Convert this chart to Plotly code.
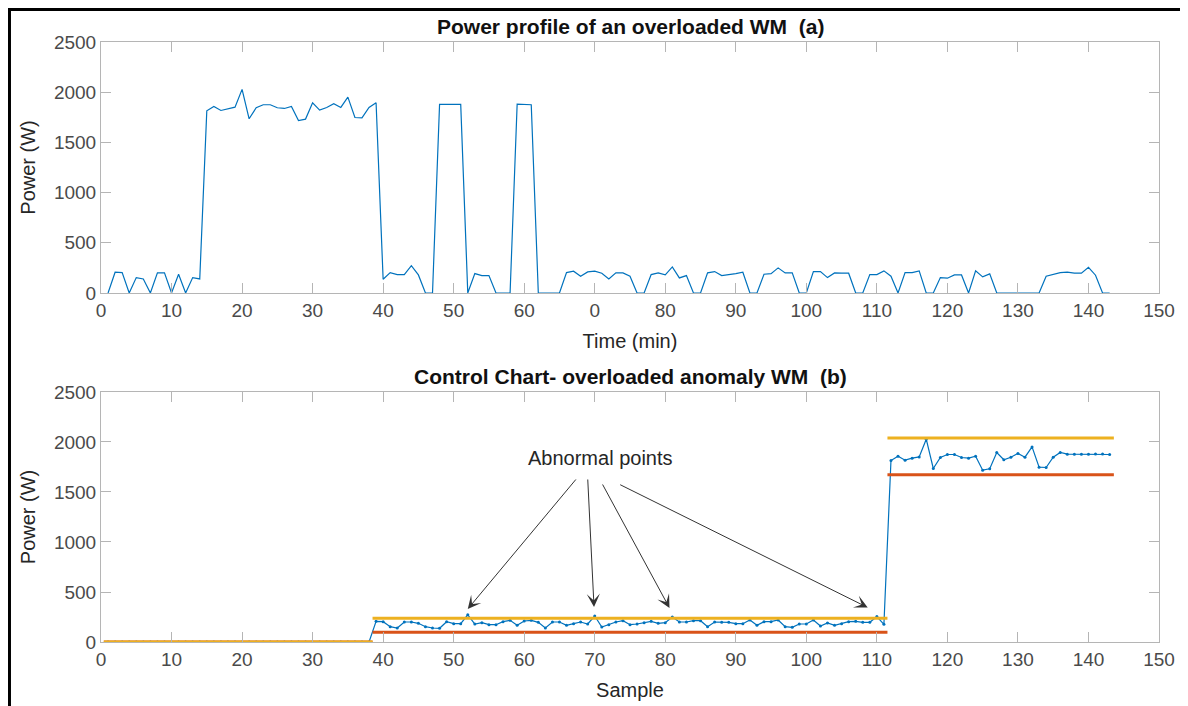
import plotly.graph_objects as go

# ---------------- data ----------------
time_min = list(range(1, 144))
power_w = [
    0, 207, 203, 0, 153, 140, 0, 200, 200, 0,
    187, 0, 153, 140, 1815, 1858, 1818, 1838, 1851, 2028,
    1735, 1845, 1875, 1875, 1845, 1838, 1858, 1718, 1732, 1895,
    1822, 1848, 1885, 1848, 1951, 1748, 1745, 1848, 1895, 137,
    203, 183, 183, 272, 180, 0, 0, 1878, 1878, 1878,
    1878, 0, 193, 173, 173, 0, 0, 0, 1881, 1881,
    1875, 0, 0, 0, 0, 203, 217, 167, 210, 217,
    197, 140, 200, 200, 167, 0, 0, 183, 200, 180,
    260, 150, 173, 0, 0, 200, 213, 173, 180, 193,
    207, 0, 0, 187, 193, 250, 200, 200, 0, 0,
    213, 213, 153, 200, 197, 197, 0, 0, 183, 183,
    220, 167, 0, 203, 203, 220, 0, 0, 153, 147,
    180, 180, 0, 220, 160, 190, 0, 0, 0, 0,
    0, 0, 0, 167, 183, 203, 207, 197, 197, 255,
    177, 0, 0,
]

# Control chart: samples grouped as off (0 W), low-power and high-power states
off_values = [v for v in power_w if v == 0]
low_values = [v for v in power_w if 0 < v < 1000]
high_values = [v for v in power_w if v >= 1000]
control_values = off_values + low_values + high_values
sample_idx = list(range(1, len(control_values) + 1))

# control limits per segment
seg_start = [0.4, 38.5, 111.5]
seg_end = [38.5, 111.5, 143.6]
ucl = [0, 237, 2040]
lcl = [0, 97, 1672]

# abnormal points annotations (arrow head / tail in data units)
arrow_head_x = [52.0, 69.9, 80.6, 108.7]
arrow_head_y = [330, 350, 340, 345]
arrow_tail_x = [67.5, 69.0, 71.0, 73.4]
arrow_tail_y = [1640, 1640, 1590, 1580]

x_tickvals = list(range(0, 151, 10))
top_ticktext = ["0", "10", "20", "30", "40", "50", "60", "0", "80", "90",
                "100", "110", "120", "130", "140", "150"]
y_tickvals = [0, 500, 1000, 1500, 2000, 2500]

BLUE = "#0072BD"
YELLOW = "#EDB120"
RED = "#D95319"
FONT = "Arial, Liberation Sans, sans-serif"
AXC = "#b5b5b5"
TXC = "#4a4a4a"
LBL = "#262626"

fig = go.Figure()

fig.add_trace(go.Scatter(x=time_min, y=power_w, mode="lines",
                         line=dict(color=BLUE, width=1.2),
                         xaxis="x", yaxis="y", showlegend=False))

fig.add_trace(go.Scatter(x=sample_idx, y=control_values, mode="lines+markers",
                         line=dict(color=BLUE, width=1.2),
                         marker=dict(color=BLUE, size=3),
                         xaxis="x2", yaxis="y2", showlegend=False))

for s, e, lo in zip(seg_start, seg_end, lcl):
    fig.add_trace(go.Scatter(x=[s, e], y=[lo, lo], mode="lines",
                             line=dict(color=RED, width=3),
                             xaxis="x2", yaxis="y2", showlegend=False))
for s, e, up in zip(seg_start, seg_end, ucl):
    fig.add_trace(go.Scatter(x=[s, e], y=[up, up], mode="lines",
                             line=dict(color=YELLOW, width=3),
                             xaxis="x2", yaxis="y2", showlegend=False))

axis_common = dict(showgrid=False, zeroline=False, showline=True, linecolor=AXC,
                   linewidth=1, mirror="ticks", ticks="inside", ticklen=10,
                   tickcolor=AXC, automargin=False,
                   tickfont=dict(family=FONT, size=19, color=TXC))

# the page body adds an 8px offset, so the figure is 8px smaller and margins shifted
fig.update_layout(
    width=1180, height=698,
    margin=dict(l=93, r=29, t=34, b=64),
    paper_bgcolor="white", plot_bgcolor="white",
    font=dict(family=FONT, color=TXC),
    xaxis=dict(domain=[0, 1], range=[0, 150], tickvals=x_tickvals, ticktext=top_ticktext,
               anchor="y", title=dict(text="Time (min)", font=dict(size=20, color=LBL),
                                      standoff=14), **axis_common),
    yaxis=dict(domain=[0.5817, 1], range=[0, 2500], tickvals=y_tickvals, anchor="x",
               title=dict(text="Power (W)", font=dict(size=20, color=LBL), standoff=12),
               **axis_common),
    xaxis2=dict(domain=[0, 1], range=[0, 150], tickvals=x_tickvals, anchor="y2",
                title=dict(text="Sample", font=dict(size=20, color=LBL), standoff=14),
                **axis_common),
    yaxis2=dict(domain=[0, 0.4167], range=[0, 2500], tickvals=y_tickvals, anchor="x2",
                title=dict(text="Power (W)", font=dict(size=20, color=LBL), standoff=12),
                **axis_common),
)

annotations = [
    dict(text="<b>Power profile of an overloaded WM  (a)</b>", x=0.5, y=1.0, xref="paper",
         yref="paper", yanchor="bottom", yshift=2, showarrow=False,
         font=dict(family=FONT, size=21, color="#111111")),
    dict(text="<b>Control Chart- overloaded anomaly WM  (b)</b>", x=0.5, y=0.4167,
         xref="paper", yref="paper", yanchor="bottom", yshift=2, showarrow=False,
         font=dict(family=FONT, size=21, color="#111111")),
    dict(text="Abnormal points", x=70.75, y=1840, xref="x2", yref="y2", showarrow=False,
         font=dict(family=FONT, size=20, color=LBL)),
]
for hx, hy, tx, ty in zip(arrow_head_x, arrow_head_y, arrow_tail_x, arrow_tail_y):
    annotations.append(dict(text="", x=hx, y=hy, xref="x2", yref="y2",
                            ax=tx, ay=ty, axref="x2", ayref="y2", showarrow=True,
                            arrowhead=3, arrowsize=2.2, arrowwidth=1,
                            arrowcolor="#333333", standoff=0))
fig.update_layout(annotations=annotations)

# outer frame of the figure
fig.add_shape(type="rect", xref="paper", yref="paper",
              x0=-0.0865, x1=1.0227, y0=-0.12, y1=1.0542,
              line=dict(color="black", width=3), fillcolor="rgba(0,0,0,0)")

fig.write_html("out.html")
